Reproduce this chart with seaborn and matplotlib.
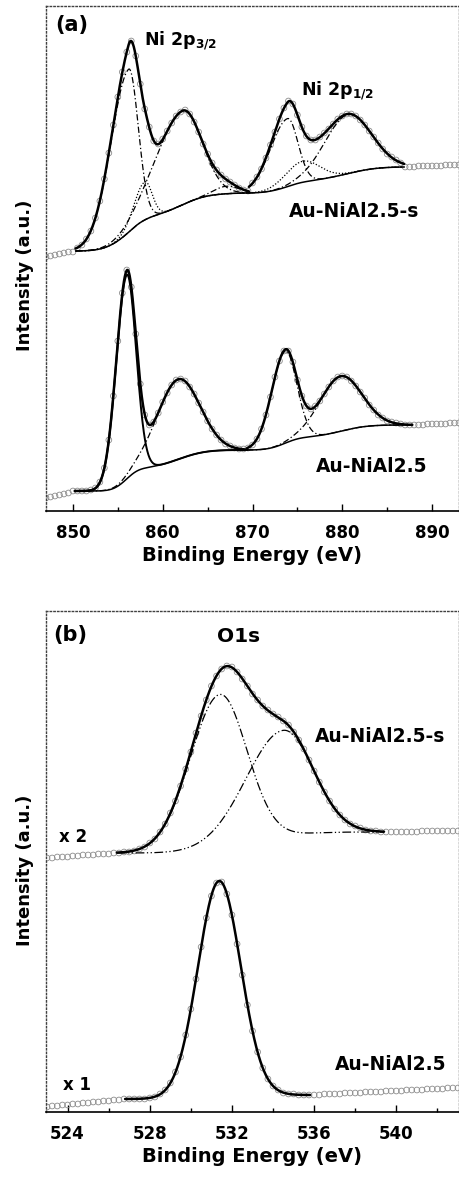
import numpy as np
import matplotlib
matplotlib.use("Agg")
import matplotlib.pyplot as plt
import seaborn as sns

# ------------------------------------------------------------------
# measured spectra (read off the figure), Ni 2p on a 0.5 eV grid from
# 847 eV, O 1s on a 0.25 eV grid from 523 eV

ni_e0, ni_step = 847.0, 0.5
o_e0, o_step = 523.0, 0.25

ni_s_counts = [
    254, 255, 256, 257, 258, 259, 259, 263, 266, 272, 280, 293, 310, 332,
    358, 386, 414, 439, 459, 470, 455, 427, 402, 384, 370, 367, 372, 380,
    388, 395, 399, 401, 397, 389, 379, 367, 357, 348, 341, 336, 332, 329,
    326, 323, 321, 320, 328, 334, 342, 353, 366, 379, 392, 403, 410, 407,
    396, 384, 375, 371, 371, 374, 378, 382, 387, 392, 395, 397, 397, 395,
    391, 386, 380, 374, 368, 362, 357, 354, 351, 348, 344, 344, 344, 345,
    345, 345, 345, 345, 345, 346, 346, 346, 346,
]
ni_counts = [
    13, 14, 15, 16, 17, 18, 20, 20, 20, 20, 21, 23, 29, 43, 71, 115, 170,
    218, 241, 224, 177, 127, 96, 86, 89, 98, 109, 118, 126, 131, 132, 130,
    124, 117, 108, 99, 90, 82, 76, 71, 67, 65, 63, 62, 62, 63, 66, 72, 82,
    96, 114, 134, 150, 160, 160, 149, 131, 115, 105, 102, 105, 110, 117,
    124, 130, 134, 135, 134, 130, 125, 119, 113, 106, 101, 96, 93, 90, 89,
    88, 87, 86, 86, 86, 86, 86, 87, 87, 87, 87, 87, 88, 88, 88,
]
o_s_counts = [
    254, 254, 255, 255, 255, 256, 256, 257, 257, 257, 258, 258, 258, 259,
    259, 260, 260, 261, 263, 265, 269, 273, 280, 288, 299, 311, 326, 343,
    360, 379, 396, 412, 426, 436, 443, 446, 445, 440, 433, 426, 418, 412,
    406, 402, 398, 395, 391, 387, 380, 372, 363, 352, 341, 330, 320, 311,
    303, 297, 292, 288, 286, 284, 282, 281, 281, 280, 280, 280, 280, 280,
    280, 280, 280, 281, 281, 281, 281, 281, 281, 281, 281,
]
o_counts = [
    5, 6, 6, 7, 7, 8, 8, 9, 9, 10, 10, 11, 11, 12, 12, 13, 13, 13, 13, 13,
    14, 15, 18, 22, 29, 40, 55, 77, 103, 133, 165, 194, 216, 229, 230, 218,
    197, 168, 137, 107, 81, 60, 44, 33, 26, 22, 19, 18, 18, 17, 17, 17, 17,
    17, 18, 18, 18, 18, 19, 19, 19, 19, 20, 20, 20, 20, 21, 21, 21, 21, 22,
    22, 22, 22, 23, 23, 23, 23, 24, 24, 24,
]

# ------------------------------------------------------------------
# fitted components: fit window, Shirley end levels, peak centre (eV),
# height and FWHM on the low / high binding-energy side

ni_s_win = [(850.3, 869.6), (869.6, 886.9)]
ni_s_bg = [(260, 318), (318, 344)]
ni_s_cen = [[856.2, 858.0, 862.2, 867.1], [873.9, 875.6, 880.6]]
ni_s_hgt = [[163, 38, 94, 7.5], [68, 21, 59]]
ni_s_wlo = [[4.8, 2.8, 7.0, 3.2], [4.6, 4.5, 6.1]]
ni_s_whi = [[2.5, 1.9, 5.0, 3.2], [2.7, 4.5, 6.1]]

ni_win = [(850.2, 869.4), (869.4, 887.8)]
ni_bg = [(20, 61), (61, 86)]
ni_cen = [[856.0, 861.7], [873.65, 879.8]]
ni_hgt = [[204, 80], [92, 55]]
ni_wlo = [[2.8, 5.6], [3.6, 5.5]]
ni_whi = [[2.4, 5.6], [3.0, 5.5]]

o_s_win = [(526.4, 539.4)]
o_s_bg = [(259, 280)]
o_s_cen = [[531.4, 534.5]]
o_s_hgt = [[152, 106]]
o_s_wlo = [[3.4, 4.2]]
o_s_whi = [[3.1, 3.4]]

o_win = [(526.8, 535.8)]
o_bg = [(13, 17)]
o_cen = [[531.38]]
o_hgt = [[216]]
o_wlo = [[2.45]]
o_whi = [[2.45]]

DASHDOT = (0, (5, 2, 1, 2))
DOT = (0, (1, 1.5))
DASHDOTDOT = (0, (7, 2, 1, 2, 1, 2))


def peak(e, c, h, wl, wr):
    """Split Gaussian, FWHM wl below and wr above the centre."""
    w = np.where(e < c, wl, wr)
    return h * np.exp(-4 * np.log(2) * ((e - c) / w) ** 2)


def fit_window(win, bg, cen, hgt, wlo, whi):
    """Components, Shirley background and envelope over one fit window."""
    e = np.linspace(win[0], win[1], 600)
    comps = np.array([peak(e, *p) for p in zip(cen, hgt, wlo, whi)])
    tot = comps.sum(axis=0)
    cum = np.concatenate([[0], np.cumsum((tot[1:] + tot[:-1]) / 2 * np.diff(e))])
    base = bg[0] + (bg[1] - bg[0]) * cum / cum[-1]
    return e, base, comps, base + tot


def draw(ax, e0, step, counts, wins, bgs, cens, hgts, wlos, whis,
         styles, show_bg):
    energy = e0 + step * np.arange(len(counts))
    sns.scatterplot(x=energy, y=counts, ax=ax, s=17, marker="o",
                    facecolors="none", edgecolor="0.55", linewidth=0.6,
                    zorder=1)
    for w, b, c, h, a, z, sty in zip(wins, bgs, cens, hgts, wlos, whis, styles):
        e, base, comps, env = fit_window(w, b, c, h, a, z)
        if show_bg:
            sns.lineplot(x=e, y=base, ax=ax, color="k", linewidth=1.1,
                         estimator=None, sort=False, zorder=2)
        for comp, ls in zip(comps, sty):
            lw = 1.4 if ls == "-" else 0.9
            sns.lineplot(x=e, y=base + comp, ax=ax, color="k", linewidth=lw,
                         linestyle=ls, estimator=None, sort=False, zorder=3)
        sns.lineplot(x=e, y=env, ax=ax, color="k", linewidth=1.8,
                     estimator=None, sort=False, zorder=4)


sns.set_style("ticks")
plt.rcParams.update({
    "font.family": ["DejaVu Sans"],
    "font.weight": "bold",
    "mathtext.fontset": "dejavusans",
    "text.color": "black",
    "axes.labelcolor": "black",
    "xtick.color": "black",
    "xtick.direction": "in",
})

fig = plt.figure(figsize=(4.6, 11.79), dpi=100)
ax_a = fig.add_axes([46 / 460, 1 - 511 / 1179, 413 / 460, 505 / 1179])
ax_b = fig.add_axes([46 / 460, 1 - 1112 / 1179, 413 / 460, 501 / 1179])

draw(ax_a, ni_e0, ni_step, ni_s_counts, ni_s_win, ni_s_bg, ni_s_cen,
     ni_s_hgt, ni_s_wlo, ni_s_whi,
     [[DASHDOT, DOT, DASHDOT, DASHDOT], [DASHDOT, DOT, DASHDOT]], True)
draw(ax_a, ni_e0, ni_step, ni_counts, ni_win, ni_bg, ni_cen,
     ni_hgt, ni_wlo, ni_whi, [["-", DASHDOT], [DASHDOT, DASHDOT]], True)
draw(ax_b, o_e0, o_step, o_s_counts, o_s_win, o_s_bg, o_s_cen,
     o_s_hgt, o_s_wlo, o_s_whi, [[DASHDOTDOT, DASHDOTDOT]], False)
draw(ax_b, o_e0, o_step, o_counts, o_win, o_bg, o_cen,
     o_hgt, o_wlo, o_whi, [[]], False)

ax_a.set_xlim(847, 893)
ax_a.set_ylim(0, 505)
ax_a.set_xticks([850, 860, 870, 880, 890])
ax_a.set_xticks([855, 865, 875, 885], minor=True)
ax_b.set_xlim(522.95, 543.05)
ax_b.set_ylim(0, 501)
ax_b.set_xticks([524, 528, 532, 536, 540])
ax_b.set_xticks([526, 530, 534, 538, 542], minor=True)

for ax, ylab_y in [(ax_a, 0.467), (ax_b, 0.483)]:
    ax.set_yticks([])
    ax.tick_params(axis="x", which="major", length=5, width=1, pad=9.5,
                   labelsize=12, colors="black")
    ax.tick_params(axis="x", which="minor", length=3, width=1)
    for lab in ax.get_xticklabels():
        lab.set_fontweight("bold")
    ax.set_xlabel("Binding Energy (eV)", fontsize=14, fontweight="bold",
                  labelpad=3)
    ax.set_ylabel("Intensity (a.u.)", fontsize=13, fontweight="bold")
    ax.yaxis.set_label_coords(-0.029, ylab_y)
    for side in ["left", "top", "right"]:
        ax.spines[side].set_linestyle(":")
        ax.spines[side].set_color("0.25")
        ax.spines[side].set_linewidth(1.0)
    ax.spines["bottom"].set_color("k")
    ax.spines["bottom"].set_linewidth(1.2)

txt = dict(ha="left", va="baseline", fontweight="bold", color="black")
ax_a.text(848.0, 480, "(a)", fontsize=15, **txt)
ax_a.text(857.9, 466, r"Ni 2p$_{\mathbf{3/2}}$", fontsize=12.5, **txt)
ax_a.text(875.4, 416, r"Ni 2p$_{\mathbf{1/2}}$", fontsize=12.5, **txt)
ax_a.text(874.1, 294, "Au-NiAl2.5-s", fontsize=13.4, **txt)
ax_a.text(877.1, 39, "Au-NiAl2.5", fontsize=13.4, **txt)
ax_b.text(523.3, 471, "(b)", fontsize=15, **txt)
ax_b.text(531.27, 470, "O1s", fontsize=14.5, **txt)
ax_b.text(536.03, 370, "Au-NiAl2.5-s", fontsize=13.4, **txt)
ax_b.text(523.6, 270, "x 2", fontsize=12, **txt)
ax_b.text(537.0, 42, "Au-NiAl2.5", fontsize=13.4, **txt)
ax_b.text(523.8, 22, "x 1", fontsize=12, **txt)

fig.savefig("out.png", dpi=100)
